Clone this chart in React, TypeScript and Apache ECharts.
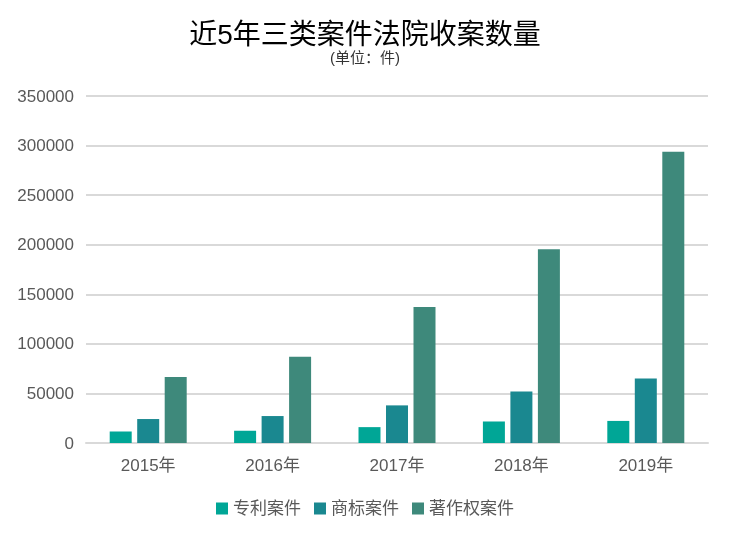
import React, { useEffect, useRef } from "react";
import * as echarts from "echarts";

const categories = ["2015年", "2016年", "2017年", "2018年", "2019年"];
const seriesNames = ["专利案件", "商标案件", "著作权案件"];
const patentCases = [11607, 12357, 16010, 21699, 22272];
const trademarkCases = [24168, 27185, 37946, 51998, 65155];
const copyrightCases = [66690, 86989, 137267, 195408, 293876];
const colors = ["#00a696", "#1a8890", "#3e897b"];

export default function App() {
  const ref = useRef<HTMLDivElement>(null);
  useEffect(() => {
    if (!ref.current) return;
    const chart = echarts.init(ref.current, undefined, { renderer: "svg" });
    const font = "Helvetica, Arial, 'Liberation Sans', 'Noto Sans CJK SC', sans-serif";
    const data = [patentCases, trademarkCases, copyrightCases];
    chart.setOption({
      animation: false,
      textStyle: { fontFamily: font },
      title: {
        text: "近5年三类案件法院收案数量",
        subtext: "(单位：件)",
        left: "center",
        top: 15,
        itemGap: 2,
        textStyle: { fontSize: 28, fontWeight: "normal", color: "#000", fontFamily: font },
        subtextStyle: { fontSize: 15, color: "#333", fontFamily: font },
      },
      legend: {
        top: 495,
        left: "center",
        itemWidth: 12,
        itemHeight: 12,
        itemGap: 13,
        icon: "rect",
        textStyle: { fontSize: 17, color: "#595959", fontFamily: font },
        data: seriesNames,
      },
      grid: { left: 86, right: 22, top: 96, bottom: 95, containLabel: false },
      xAxis: {
        type: "category",
        data: categories,
        axisLine: { lineStyle: { color: "#d9d9d9", width: 2 } },
        axisTick: { show: false },
        axisLabel: { fontSize: 17, color: "#595959", margin: 14, fontFamily: font },
      },
      yAxis: {
        type: "value",
        min: 0,
        max: 350000,
        interval: 50000,
        axisLine: { show: false },
        axisTick: { show: false },
        axisLabel: {
          fontSize: 17,
          color: "#595959",
          margin: 12,
          fontFamily: font,
          formatter: (v: number) => String(v),
        },
        splitLine: { lineStyle: { color: "#d9d9d9", width: 2 } },
      },
      series: seriesNames.map((name, i) => ({
        name,
        type: "bar",
        data: data[i],
        barWidth: 22,
        barGap: "25%",
        itemStyle: { color: colors[i] },
      })),
    });
    return () => chart.dispose();
  }, []);
  return (
    <div
      ref={ref}
      style={{ position: "fixed", left: 0, top: 0, width: 730, height: 538 }}
    />
  );
}
